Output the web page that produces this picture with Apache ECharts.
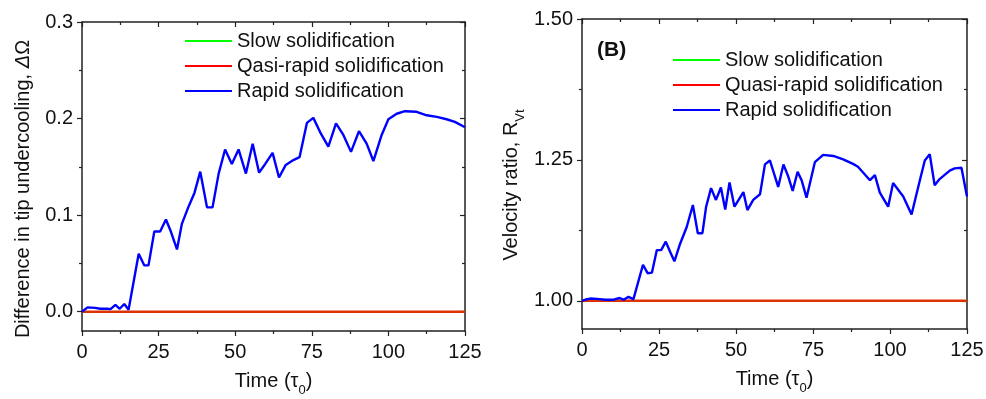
<!DOCTYPE html>
<html>
<head>
<meta charset="utf-8">
<script src="https://cdn.jsdelivr.net/npm/echarts@6/dist/echarts.min.js"></script>
<style>
html,body{margin:0;padding:0;background:#fff;}
#chart{width:986px;height:399px;}
</style>
</head>
<body>
<div id="chart"></div>
<script>
// ---------- data ----------
const xTicks = [0, 25, 50, 75, 100, 125];
const yTicksA = [0, 0.1, 0.2, 0.3];
const yMinorA = [0.05, 0.15, 0.25];
const yTicksB = [1.0, 1.25, 1.5];
const yMinorB = [1.125, 1.375];

const legendA = ['Slow solidification', 'Qasi-rapid solidification', 'Rapid solidification'];
const legendB = ['Slow solidification', 'Quasi-rapid solidification', 'Rapid solidification'];

const flatTime = [0, 125];
const slowA = [0, 0];
const quasiA = [0, 0];
const slowB = [1, 1];
const quasiB = [1, 1];

const timeA = [0,1.8,4.3,6,8.2,9.3,10.9,12.3,13.8,15.2,18.5,20.3,21.7,23.6,25.5,27.4,29,31,32.6,34.8,36.7,38.6,40.8,42.6,44.6,46.7,48.9,51.1,53.5,55.7,57.8,59.8,62.2,64.3,66.5,69,71,73.4,75.5,77.7,80.4,82.9,85.3,87.8,90.4,92.9,95.1,97.8,100,102.7,105.4,109.2,112.5,115.8,119,121.7,125];
const rapidA = [0,0.0045,0.004,0.003,0.003,0.0027,0.007,0.003,0.008,0.002,0.060,0.048,0.048,0.083,0.083,0.0955,0.083,0.0645,0.091,0.109,0.123,0.145,0.108,0.108,0.143,0.168,0.153,0.168,0.143,0.174,0.144,0.153,0.1645,0.139,0.152,0.157,0.160,0.1955,0.2007,0.186,0.171,0.195,0.183,0.1655,0.187,0.174,0.156,0.183,0.1993,0.205,0.2076,0.207,0.2034,0.2017,0.1993,0.1966,0.191];

const timeB = [0,1.6,2.7,4.9,7.6,10.3,12.2,13.5,15.1,16.7,19.8,21.3,22.7,24.3,25.7,27.2,28.6,30,31.7,34,36,37.6,39.1,40.3,41.9,43.5,45.1,46.5,47.9,49.5,52.4,53.7,55.6,57.8,59.4,61,63.7,65.4,67,68.4,70,71.3,72.9,75.6,78.3,81.6,84.8,88,89.6,93.5,95.1,96.7,99.4,101,104.3,107,109.7,111.3,112.9,114.5,116.1,119.4,121,123.2,125];
const rapidB = [1.0,1.003,1.004,1.0035,1.002,1.002,1.005,1.002,1.007,1.003,1.064,1.049,1.050,1.090,1.090,1.105,1.087,1.070,1.099,1.131,1.170,1.120,1.120,1.167,1.200,1.179,1.201,1.162,1.210,1.167,1.193,1.161,1.179,1.189,1.242,1.249,1.202,1.242,1.220,1.195,1.229,1.214,1.183,1.246,1.259,1.257,1.251,1.243,1.238,1.214,1.223,1.192,1.167,1.209,1.185,1.153,1.214,1.249,1.260,1.205,1.216,1.231,1.235,1.236,1.185];

// ---------- build ----------
const FONT = 'Liberation Sans, Arial, Helvetica, sans-serif';
const INK = '#111';
const AX = '#222';
const zip = (a, b) => a.map((v, i) => [v, b[i]]);

function xAxisPair(grid) {
  const base = {
    gridIndex: grid, type: 'value', min: xTicks[0], max: xTicks[xTicks.length - 1],
    interval: xTicks[1] - xTicks[0], splitLine: {show: false},
    axisLine: {show: true, onZero: false, lineStyle: {color: AX, width: 1.5}},
    minorTick: {show: true, splitNumber: 2, length: 3, lineStyle: {color: AX, width: 1.2}}
  };
  return [
    Object.assign({}, base, {
      position: 'bottom',
      axisTick: {show: true, inside: false, length: 5, lineStyle: {color: AX, width: 1.2}},
      axisLabel: {show: true, fontSize: 20, fontFamily: FONT, color: INK, margin: 11},
      name: '{m|Time (τ}{s|0}{m|)}', nameLocation: 'middle', nameGap: 40,
      nameTextStyle: {fontSize: 20, fontFamily: FONT, color: INK,
        rich: {m: {fontSize: 20, fontFamily: FONT, color: INK, verticalAlign: 'top', lineHeight: 22},
               s: {fontSize: 13, fontFamily: FONT, color: INK, lineHeight: 38}}}
    }),
    Object.assign({}, base, {
      position: 'top',
      axisTick: {show: true, inside: true, length: 5, lineStyle: {color: AX, width: 1.2}},
      axisLabel: {show: false}
    })
  ];
}

function yAxisSet(grid, min, max, majors, minors, digits) {
  const base = {gridIndex: grid, type: 'value', min: min, max: max, splitLine: {show: false}};
  const line = {show: true, onZero: false, lineStyle: {color: AX, width: 1.5}};
  const noLine = {show: false, onZero: false};
  return [
    Object.assign({}, base, {
      position: 'left', axisLine: line,
      axisTick: {show: true, inside: false, length: 5, customValues: majors, lineStyle: {color: AX, width: 1.2}},
      axisLabel: {show: true, customValues: majors, fontSize: 20, fontFamily: FONT, color: INK, margin: 9,
        formatter: v => Number(v).toFixed(digits)}
    }),
    Object.assign({}, base, {
      position: 'left', axisLine: noLine,
      axisTick: {show: true, inside: false, length: 3, customValues: minors, lineStyle: {color: AX, width: 1.2}},
      axisLabel: {show: false}
    }),
    Object.assign({}, base, {
      position: 'right', axisLine: line,
      axisTick: {show: true, inside: true, length: 5, customValues: majors, lineStyle: {color: AX, width: 1.2}},
      axisLabel: {show: false}
    }),
    Object.assign({}, base, {
      position: 'right', axisLine: noLine,
      axisTick: {show: true, inside: true, length: 3, customValues: minors, lineStyle: {color: AX, width: 1.2}},
      axisLabel: {show: false}
    })
  ];
}

function lineSeries(name, xi, yi, data, color, lineColor, width) {
  return {
    name: name, type: 'line', xAxisIndex: xi, yAxisIndex: yi, data: data,
    symbol: 'none', smooth: false, animation: false,
    itemStyle: {color: color},
    lineStyle: {color: lineColor || color, width: width || 2.4}
  };
}

function legend(left, top, names) {
  return {
    left: left, top: top, orient: 'vertical', icon: 'rect',
    itemWidth: 47, itemHeight: 2, itemGap: 5, selectedMode: false,
    data: names,
    textStyle: {fontSize: 20, lineHeight: 20, fontFamily: FONT, color: INK}
  };
}

const option = {
  animation: false,
  backgroundColor: '#fff',
  grid: [
    {left: 82, top: 22, width: 383, height: 309, outerBoundsMode: 'none', containLabel: false},
    {left: 582, top: 19, width: 385, height: 310, outerBoundsMode: 'none', containLabel: false}
  ],
  xAxis: [].concat(xAxisPair(0), xAxisPair(1)),
  yAxis: [].concat(
    yAxisSet(0, -0.02, 0.3, yTicksA, yMinorA, 1),
    yAxisSet(1, 0.95, 1.5, yTicksB, yMinorB, 2)
  ),
  legend: [legend(180, 26, legendA), legend(668, 45, legendB)],
  series: [
    lineSeries(legendA[0], 0, 0, zip(flatTime, slowA), '#00ff00', null, 1.2),
    lineSeries(legendA[1], 0, 0, zip(flatTime, quasiA), '#ff0000', '#dd3300', 2.4),
    lineSeries(legendA[2], 0, 0, zip(timeA, rapidA), '#0000ff'),
    lineSeries(legendB[0], 2, 4, zip(flatTime, slowB), '#00ff00', null, 1.2),
    lineSeries(legendB[1], 2, 4, zip(flatTime, quasiB), '#ff0000', '#dd3300', 2.4),
    lineSeries(legendB[2], 2, 4, zip(timeB, rapidB), '#0000ff')
  ],
  graphic: [
    {type: 'text', x: 23, y: 189, rotation: Math.PI / 2,
     style: {text: 'Difference in tip undercooling, {i|Δ}Ω', fontSize: 20, fontFamily: FONT, fill: INK,
             align: 'center', verticalAlign: 'middle',
             rich: {i: {fontSize: 20, fontFamily: FONT, fontStyle: 'italic', fill: INK}}}},
    {type: 'text', x: 520, y: 185, rotation: Math.PI / 2,
     style: {text: '{m|Velocity ratio, R}{s|Vt}', fontSize: 20, fontFamily: FONT, fill: INK,
             align: 'center', verticalAlign: 'middle',
             rich: {m: {fontSize: 20, fontFamily: FONT, fill: INK, verticalAlign: 'top', lineHeight: 22},
                    s: {fontSize: 13, fontFamily: FONT, fill: INK, lineHeight: 38}}}},
    {type: 'text', x: 597, y: 50,
     style: {text: '(B)', fontSize: 21, fontWeight: 'bold', fontFamily: FONT, fill: INK,
             align: 'left', verticalAlign: 'middle'}}
  ]
};

const chart = echarts.init(document.getElementById('chart'), null, {renderer: 'canvas'});
chart.setOption(option);
</script>
</body>
</html>
